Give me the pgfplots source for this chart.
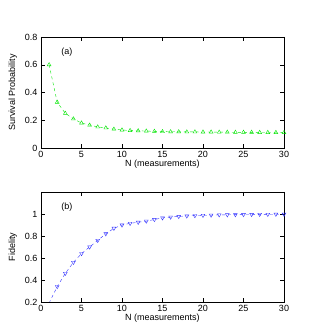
\documentclass[border=0pt]{standalone}
\usepackage{pgfplots}
\pgfplotsset{compat=1.18}
\usepackage{fontspec}
\setmainfont{Liberation Sans}
\begin{document}
\begin{tikzpicture}[x=1pt,y=1pt]
\useasboundingbox (0,0) rectangle (314,335);
\pgfplotsset{
  myax/.style={
    scale only axis, width=243pt, height=111pt,
    xmin=0, xmax=30, xtick={0,5,...,30},
    tick align=inside, tick style={black, thin},
    font=\fontsize{9}{10}\selectfont,
    /pgf/number format/assume math mode=true,
    xlabel={N (measurements)},
    xlabel style={yshift=5pt},
    ylabel style={yshift=1pt},
    axis line style={black, thin},
    every axis plot/.append style={thin},
  }
}
\begin{axis}[myax, at={(41pt,187pt)}, anchor=origin,
  ymin=0, ymax=0.8, ytick={0,0.2,...,0.8},
  ylabel={Survival Probability}]
\addplot[green!90!black, dashed, mark=triangle, mark size=2.2pt, mark options={solid}] coordinates {
(1,0.60) (2,0.33) (3,0.25) (4,0.21) (5,0.18) (6,0.165) (7,0.152) (8,0.145) (9,0.136) (10,0.13)
(11,0.126) (12,0.124) (13,0.122) (14,0.12) (15,0.118) (16,0.117) (17,0.117) (18,0.116) (19,0.116) (20,0.115)
(21,0.115) (22,0.114) (23,0.114) (24,0.113) (25,0.113) (26,0.113) (27,0.112) (28,0.112) (29,0.112) (30,0.111)};
\node[font=\fontsize{9}{10}\selectfont] at (axis cs:3.2,0.69) {(a)};
\end{axis}
\begin{axis}[myax, at={(41pt,33pt)}, anchor=origin, height=110pt,
  ymin=0.2, ymax=1.2, ytick={0.2,0.4,...,1.0}, yticklabels={0.2,0.4,0.6,0.8,1},
  ylabel={Fidelity}]
\addplot[blue!80!white, dashed, mark=triangle, mark size=2.2pt, mark options={solid, rotate=180}] coordinates {
(1,0.19) (2,0.34) (3,0.46) (4,0.56) (5,0.64) (6,0.70) (7,0.76) (8,0.82) (9,0.87) (10,0.90)
(11,0.915) (12,0.925) (13,0.935) (14,0.95) (15,0.965) (16,0.972) (17,0.978) (18,0.982) (19,0.985) (20,0.988)
(21,0.99) (22,0.992) (23,0.993) (24,0.994) (25,0.995) (26,0.996) (27,0.997) (28,0.997) (29,0.998) (30,0.998)};
\node[font=\fontsize{9}{10}\selectfont] at (axis cs:3.2,1.06) {(b)};
\end{axis}
\end{tikzpicture}
\end{document}
